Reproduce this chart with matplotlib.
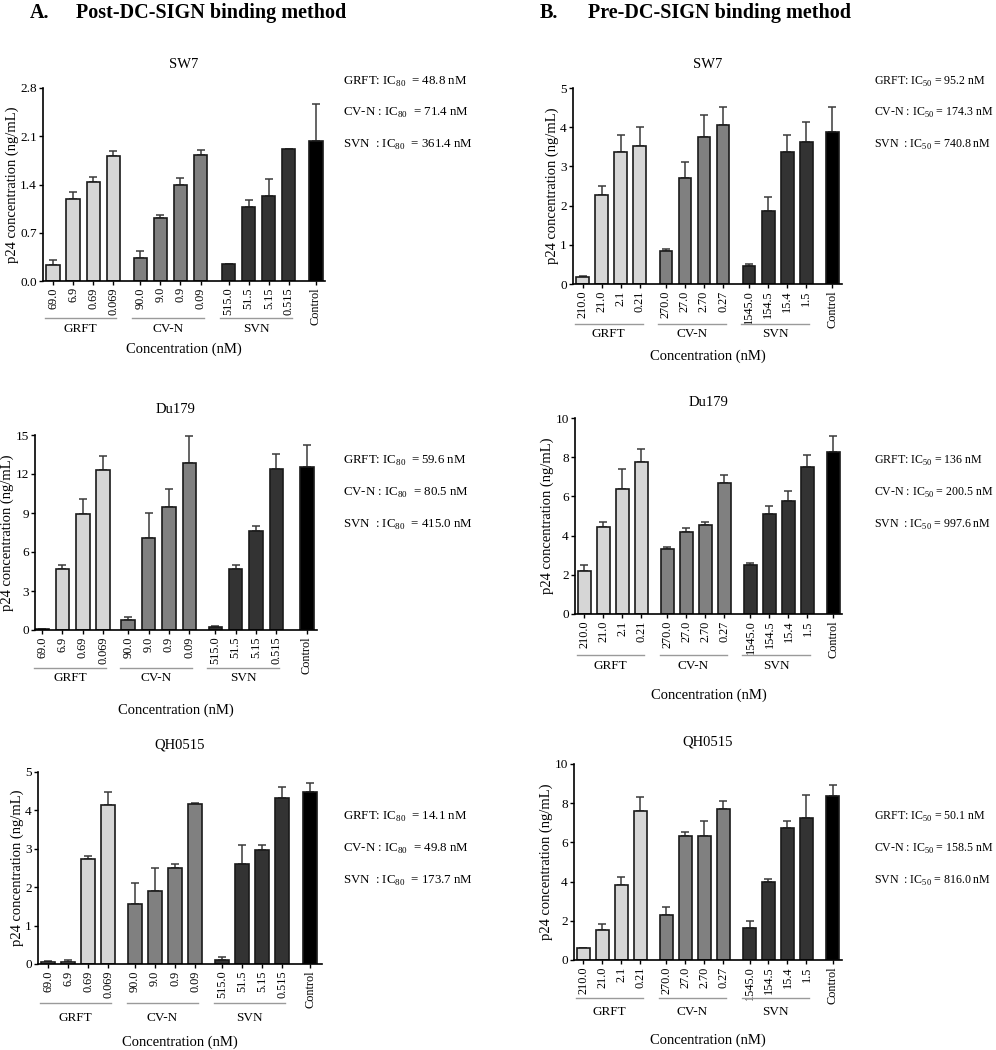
import matplotlib
matplotlib.use("Agg")
import matplotlib.pyplot as plt
from matplotlib.transforms import blended_transform_factory

plt.rcParams['font.family'] = 'Liberation Serif'
plt.rcParams['mathtext.fontset'] = 'custom'
plt.rcParams['mathtext.rm'] = 'Liberation Serif'

groups = ["GRFT", "CV-N", "SVN"]
post_conc = [["69.0", "6.9", "0.69", "0.069"],
             ["90.0", "9.0", "0.9", "0.09"],
             ["515.0", "51.5", "5.15", "0.515"]]
pre_conc = [["210.0", "21.0", "2.1", "0.21"],
            ["270.0", "27.0", "2.70", "0.27"],
            ["1545.0", "154.5", "15.4", "1.5"]]

# post-DC-SIGN, bar heights and upper error (ng/mL)
sw7_post = [[0.23, 1.19, 1.43, 1.81], [0.33, 0.92, 1.40, 1.83], [0.25, 1.07, 1.24, 1.92], 2.03]
sw7_post_err = [[0.08, 0.10, 0.08, 0.07], [0.10, 0.04, 0.09, 0.07], [0.0, 0.10, 0.24, 0.0], 0.54]
du179_post = [[0.1, 4.69, 8.9, 12.28], [0.77, 7.1, 9.49, 12.85], [0.2, 4.72, 7.59, 12.41], 12.56]
du179_post_err = [[0.0, 0.31, 1.15, 1.13], [0.26, 1.87, 1.36, 2.05], [0.08, 0.31, 0.41, 1.15], 1.64]
qh_post = [[0.04, 0.05, 2.73, 4.15], [1.56, 1.9, 2.51, 4.16], [0.1, 2.6, 2.97, 4.31], 4.49]
qh_post_err = [[0.04, 0.06, 0.07, 0.33], [0.54, 0.61, 0.09, 0.04], [0.09, 0.5, 0.14, 0.29], 0.23]

# pre-DC-SIGN
sw7_pre = [[0.17, 2.27, 3.36, 3.51], [0.85, 2.71, 3.76, 4.06], [0.46, 1.87, 3.36, 3.61], 3.87]
sw7_pre_err = [[0.04, 0.24, 0.45, 0.50], [0.05, 0.40, 0.55, 0.45], [0.05, 0.34, 0.45, 0.51], 0.64]
du179_pre = [[2.2, 4.46, 6.4, 7.76], [3.3, 4.2, 4.54, 6.66], [2.5, 5.09, 5.75, 7.51], 8.26]
du179_pre_err = [[0.3, 0.25, 1.0, 0.65], [0.1, 0.21, 0.17, 0.44], [0.09, 0.41, 0.55, 0.59], 0.84]
qh_pre = [[0.61, 1.51, 3.81, 7.6], [2.31, 6.31, 6.31, 7.72], [1.65, 3.96, 6.75, 7.26], 8.37]
qh_pre_err = [[0.0, 0.31, 0.41, 0.7], [0.41, 0.2, 0.8, 0.39], [0.35, 0.16, 0.36, 1.16], 0.56]

ic_post = [["48.8", "71.4", "361.4"], ["59.6", "80.5", "415.0"], ["14.1", "49.8", "173.7"]]
ic_pre = [["95.2", "174.3", "740.8"], ["136", "200.5", "997.6"], ["50.1", "158.5", "816.0"]]

bar_colors = ["#d6d6d6", "#808080", "#333333", "#000000"]

W, H = 996, 1050
fig = plt.figure(figsize=(W / 100, H / 100), dpi=100)


def px_axes(x0, x1, ytop, ybot):
    return fig.add_axes([x0 / W, 1 - ybot / H, (x1 - x0) / W, (ybot - ytop) / H])


def draw_panel(box, title, title_y, vals, errs, conc, yticks, yfmt, gaps, lp, rp,
               line_y, grp_y, xl_y, ic, ic_kind, ic_x, ic_y, ic_size, ic_sep):
    ax = px_axes(*box)
    g1, g2, g3 = gaps
    starts = [0, 3 + g1, 6 + g1 + g2]
    ctrl = 9 + g1 + g2 + g3
    xs, hs, es, cs, labs = [], [], [], [], []
    for gi in range(3):
        for j in range(4):
            xs.append(starts[gi] + j)
            hs.append(vals[gi][j])
            es.append(errs[gi][j])
            cs.append(bar_colors[gi])
            labs.append(conc[gi][j])
    xs.append(ctrl)
    hs.append(vals[3])
    es.append(errs[3])
    cs.append(bar_colors[3])
    labs.append("Control")

    ax.errorbar(xs, hs, yerr=[[0] * len(es), es], fmt="none", ecolor="#3a3a3a",
                elinewidth=1.1, capsize=3, capthick=1.1, zorder=1)
    ax.bar(xs, hs, width=0.66, color=cs, edgecolor="#1a1a1a", linewidth=1.2, zorder=2)

    ax.set_xlim(-lp, ctrl + rp)
    ax.set_ylim(0, yticks[-1])
    ax.set_yticks(yticks)
    ax.set_yticklabels([yfmt % t for t in yticks], fontsize=9.5)
    ax.set_xticks(xs)
    ax.set_xticklabels(labs, rotation=90, fontsize=8.8)
    ax.tick_params(axis="both", length=3, width=1, pad=1.5)
    for s in ["top", "right"]:
        ax.spines[s].set_visible(False)
    for s in ["left", "bottom"]:
        ax.spines[s].set_linewidth(1.2)
    ax.set_ylabel("p24 concentration (ng/mL)", fontsize=10.5, labelpad=1)

    cx = (box[0] + box[1]) / 2 / W
    fig.text(cx, 1 - title_y / H, title, ha="center", va="center", fontsize=10.5)

    tr = blended_transform_factory(ax.transData, fig.transFigure)
    for gi in range(3):
        a, b = starts[gi] - 0.42, starts[gi] + 3.15
        ax.plot([a, b], [1 - line_y / H] * 2, color="#9a9a9a", lw=1,
                transform=tr, clip_on=False)
        ax.text((a + b) / 2, 1 - grp_y / H, groups[gi], transform=tr,
                ha="center", va="center", fontsize=9.5)
    fig.text(cx, 1 - xl_y / H, "Concentration (nM)", ha="center", va="center",
             fontsize=10.5)

    names = ["GRFT: IC", "CV-N : IC", "SVN  : IC"]
    for k in range(3):
        fig.text(ic_x / W, 1 - ic_y[k] / H,
                 names[k] + r"$_{\mathrm{" + ic_kind + "}}$" + ic_sep + "= " + ic[k] + " nM",
                 ha="left", va="center", fontsize=ic_size)
    return ax


post_gaps_top = (1.35, 1.4, 1.35)
post_gaps_mid = (1.23, 1.28, 1.5)
post_gaps_bot = (1.35, 1.35, 1.4)
pre_gaps = (1.37, 1.37, 1.37)

# left column: post-DC-SIGN
draw_panel((43, 325, 88, 281), "SW7", 65, sw7_post, sw7_post_err, post_conc,
           [0.0, 0.7, 1.4, 2.1, 2.8], "%.1f", post_gaps_top, 0.5, 0.45,
           318, 329, 349, ic_post[0], "80", 343, [82, 113, 145], 9.3, "  ")
draw_panel((35, 317, 435, 630), "Du179", 410, du179_post, du179_post_err, post_conc,
           [0, 3, 6, 9, 12, 15], "%d", post_gaps_mid, 0.35, 0.5,
           668, 678, 710, ic_post[1], "80", 343, [461, 493, 525], 9.3, "  ")
draw_panel((38, 322, 772, 964), "QH0515", 745, qh_post, qh_post_err, post_conc,
           [0, 1, 2, 3, 4, 5], "%d", post_gaps_bot, 0.5, 0.6,
           1003, 1018, 1042, ic_post[2], "80", 343, [817, 849, 881], 9.3, "  ")

# right column: pre-DC-SIGN
draw_panel((573, 842, 88, 284), "SW7", 65, sw7_pre, sw7_pre_err, pre_conc,
           [0, 1, 2, 3, 4, 5], "%d", pre_gaps, 0.5, 0.5,
           324, 334, 356, ic_pre[0], "50", 874, [82, 113, 145], 8.6, " ")
draw_panel((575, 842, 418, 614), "Du179", 403, du179_pre, du179_pre_err, pre_conc,
           [0, 2, 4, 6, 8, 10], "%d", pre_gaps, 0.5, 0.45,
           655, 666, 695, ic_pre[1], "50", 874, [461, 493, 525], 8.6, " ")
draw_panel((574, 842, 764, 960), "QH0515", 742, qh_pre, qh_pre_err, pre_conc,
           [0, 2, 4, 6, 8, 10], "%d", pre_gaps, 0.5, 0.5,
           998, 1012, 1040, ic_pre[2], "50", 874, [817, 849, 881], 8.6, " ")

fig.text(30 / W, 1 - 13 / H, "A.", fontsize=14.5, fontweight="bold", va="center")
fig.text(76 / W, 1 - 13 / H, "Post-DC-SIGN binding method", fontsize=14.5,
         fontweight="bold", va="center")
fig.text(540 / W, 1 - 13 / H, "B.", fontsize=14.5, fontweight="bold", va="center")
fig.text(588 / W, 1 - 13 / H, "Pre-DC-SIGN binding method", fontsize=14.5,
         fontweight="bold", va="center")

fig.savefig("out.png", dpi=100)
